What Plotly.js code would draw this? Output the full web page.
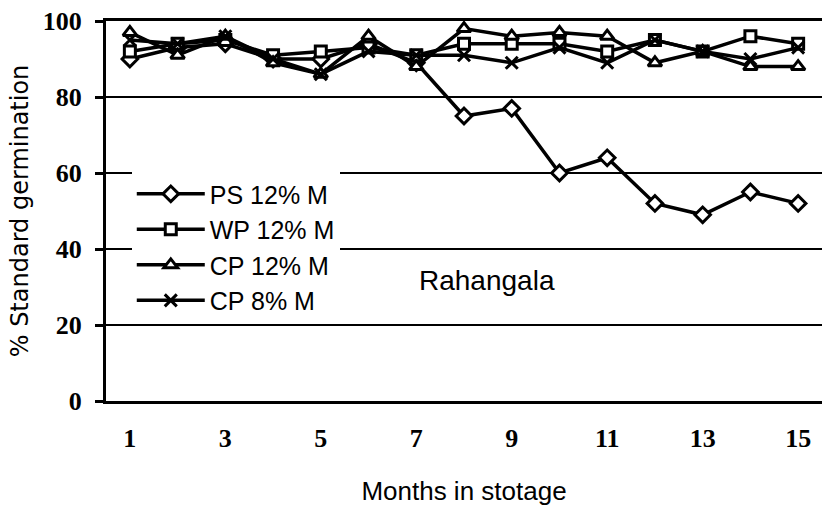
<!DOCTYPE html>
<html>
<head>
<meta charset="utf-8">
<script src="https://cdn.plot.ly/plotly-3.0.1.min.js"></script>
<style>html,body{margin:0;padding:0;background:#fff;}#chart{width:822px;height:510px;}</style>
</head>
<body>
<div id="chart"></div>
<script>
const months = [1,2,3,4,5,6,7,8,9,10,11,12,13,14,15];
const psVals   = [90, 93, 94, 90, 90, 94, 89, 75, 77, 60, 64, 52, 49, 55, 52];
const wpVals   = [92, 94, 95, 91, 92, 93, 91, 94, 94, 94, 92, 95, 92, 96, 94];
const cp12Vals = [97, 91, 96, 89, 86, 96, 88, 98, 96, 97, 96, 89, 92, 88, 88];
const cp8Vals  = [95, 94, 96, 90, 86, 92, 91, 91, 89, 93, 89, 95, 92, 90, 93];
const seriesNames = ['PS 12% M', 'WP 12% M', 'CP 12% M', 'CP 8% M'];
const xTickVals = [1,3,5,7,9,11,13,15];
const xTickText = ['1','3','5','7','9','11','13','15'];
const boundaryTicks = [0.5,1.5,2.5,3.5,4.5,5.5,6.5,7.5,8.5,9.5,10.5,11.5,12.5,13.5,14.5,15.5];
const yTickVals = [0,20,40,60,80,100];
const siteLabel = 'Rahangala';

function mk(name, vals, symbol, size, fill) {
  return {
    x: months, y: vals, name: name, type: 'scatter', mode: 'lines+markers',
    line: {color: '#000', width: 3.5},
    marker: {symbol: symbol, size: size, color: fill, line: {color: '#000', width: 3}}
  };
}
const data = [
  mk(seriesNames[0], psVals, 'diamond', 12, '#fff'),
  mk(seriesNames[1], wpVals, 'square', 11, '#fff'),
  mk(seriesNames[2], cp12Vals, 'triangle-up', 12, '#fff'),
  mk(seriesNames[3], cp8Vals, 'x-thin', 12, '#000')
];

const layout = {
  width: 822, height: 510,
  margin: {l: 106, r: 0, t: 21, b: 109},
  paper_bgcolor: '#fff', plot_bgcolor: '#fff',
  showlegend: true,
  xaxis: {
    range: [0.5, 15.5], tickvals: xTickVals, ticktext: xTickText,
    ticks: '', showgrid: false, zeroline: false,
    showline: true, linecolor: '#000', linewidth: 3, mirror: true,
    ticklabelstandoff: 12,
    tickfont: {family: 'Liberation Serif', size: 26, color: '#000', weight: 'bold'},
    title: {text: 'Months in stotage', font: {family: 'Liberation Sans', size: 26, color: '#000'}, standoff: 30}
  },
  xaxis2: {
    overlaying: 'x', anchor: 'y', side: 'bottom',
    range: [0.5, 15.5], tickvals: boundaryTicks, ticks: 'outside', ticklen: 8, tickwidth: 3, tickcolor: '#000',
    showticklabels: false, showgrid: false, zeroline: false, showline: false
  },
  yaxis: {
    range: [0, 100], tickvals: yTickVals, ticks: 'outside', ticklen: 8, tickwidth: 3, tickcolor: '#000',
    showgrid: true, gridcolor: '#000', gridwidth: 2, zeroline: false,
    showline: true, linecolor: '#000', linewidth: 3, mirror: true,
    ticklabelstandoff: 8,
    tickfont: {family: 'Liberation Serif', size: 26, color: '#000', weight: 'bold'},
    title: {text: '% Standard germination', font: {family: 'DejaVu Sans', size: 24, color: '#000'}, standoff: 8}
  },
  legend: {
    x: 0.036, y: 0.605, xanchor: 'left', yanchor: 'top',
    bgcolor: '#fff', borderwidth: 0,
    font: {family: 'Liberation Sans', size: 25, color: '#000'},
    itemwidth: 68
  },
  annotations: [{
    x: 8.48, y: 31.8, xref: 'x', yref: 'y', text: siteLabel, showarrow: false,
    font: {family: 'Liberation Sans', size: 28, color: '#000'}
  }]
};
Plotly.newPlot('chart', data, layout, {displayModeBar: false, staticPlot: true});
</script>
</body>
</html>
